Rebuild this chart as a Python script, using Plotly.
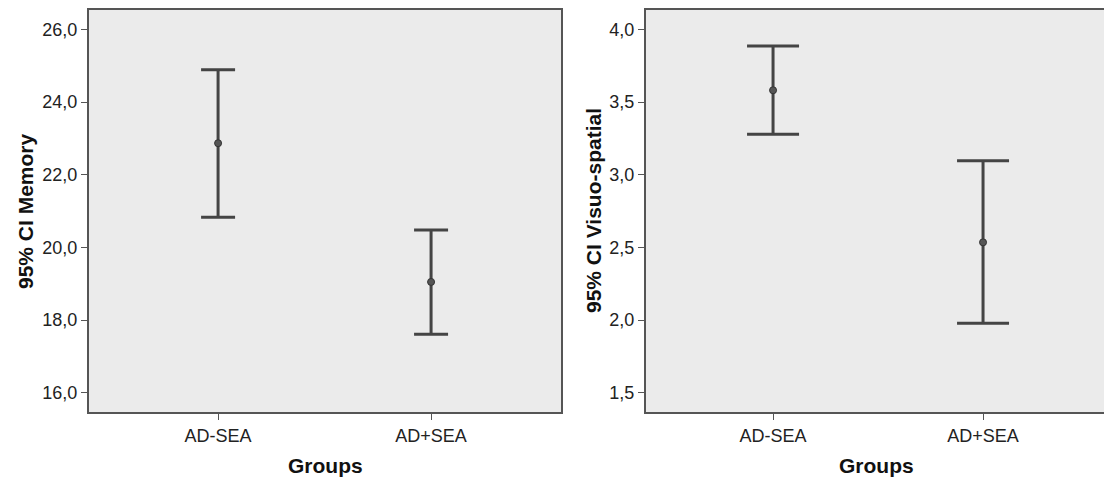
import plotly.graph_objects as go

groups = ["AD-SEA", "AD+SEA"]
mem_mean = [22.87, 19.05]
mem_lower = [20.83, 17.61]
mem_upper = [24.89, 20.48]
vis_mean = [3.582, 2.535]
vis_lower = [3.279, 1.978]
vis_upper = [3.886, 3.097]

mem_ticks = [16, 18, 20, 22, 24, 26]
mem_ticktext = ["16,0", "18,0", "20,0", "22,0", "24,0", "26,0"]
vis_ticks = [1.5, 2.0, 2.5, 3.0, 3.5, 4.0]
vis_ticktext = ["1,5", "2,0", "2,5", "3,0", "3,5", "4,0"]

W, H = 1104, 479
BAR = "#444444"
FONT = "Liberation Sans, Arial, sans-serif"

fig = go.Figure()

def add_panel(mean, lower, upper, xa, ya, cap):
    fig.add_trace(go.Scatter(
        x=[0, 1], y=mean, mode="markers", xaxis=xa, yaxis=ya,
        marker=dict(size=7, color="#555555", line=dict(color="#333333", width=1)),
        error_y=dict(type="data", symmetric=False,
                     array=[u - m for u, m in zip(upper, mean)],
                     arrayminus=[m - l for m, l in zip(mean, lower)],
                     color=BAR, thickness=3, width=cap),
        showlegend=False, hoverinfo="skip"))

add_panel(mem_mean, mem_lower, mem_upper, "x", "y", 17)
add_panel(vis_mean, vis_lower, vis_upper, "x2", "y2", 26)

axcommon = dict(showgrid=False, zeroline=False, showline=True, linecolor="#555555",
                linewidth=2, ticks="outside", ticklen=6, tickcolor="#555555",
                tickfont=dict(family=FONT, size=18, color="#222222"))

y_top = 1 - 9.5 / H
y_bot = 1 - 412 / H

fig.update_layout(
    width=W, height=H, margin=dict(l=0, r=0, t=0, b=0),
    paper_bgcolor="white", plot_bgcolor="#ebebeb",
    xaxis=dict(domain=[89 / W, 561 / W], range=[-0.606, 1.61], mirror=True,
               tickvals=[0, 1], ticktext=groups, anchor="y", **axcommon),
    yaxis=dict(domain=[y_bot, y_top], range=[15.47, 26.55], mirror=True,
               tickvals=mem_ticks, ticktext=mem_ticktext, anchor="x", **axcommon),
    xaxis2=dict(domain=[646 / W, 1.0], range=[-0.605, 1.576], mirror=True,
                tickvals=[0, 1], ticktext=groups, anchor="y2", **axcommon),
    yaxis2=dict(domain=[y_bot, y_top], range=[1.367, 4.138], mirror=False,
                tickvals=vis_ticks, ticktext=vis_ticktext, anchor="x2", **axcommon),
)

title_font = dict(family=FONT, size=21, color="#111111")
ycenter = 1 - 211 / H
fig.add_annotation(text="<b>95% CI Memory</b>", xref="paper", yref="paper",
                   x=25 / W, y=ycenter, textangle=-90, showarrow=False, font=title_font,
                   xanchor="center", yanchor="middle")
fig.add_annotation(text="<b>95% CI Visuo-spatial</b>", xref="paper", yref="paper",
                   x=593 / W, y=ycenter, textangle=-90, showarrow=False, font=title_font,
                   xanchor="center", yanchor="middle")
fig.add_annotation(text="<b>Groups</b>", xref="paper", yref="paper",
                   x=325 / W, y=1 - 465 / H, showarrow=False, font=title_font,
                   xanchor="center", yanchor="middle")
fig.add_annotation(text="<b>Groups</b>", xref="paper", yref="paper",
                   x=876 / W, y=1 - 465 / H, showarrow=False, font=title_font,
                   xanchor="center", yanchor="middle")

fig.write_html("out.html")
